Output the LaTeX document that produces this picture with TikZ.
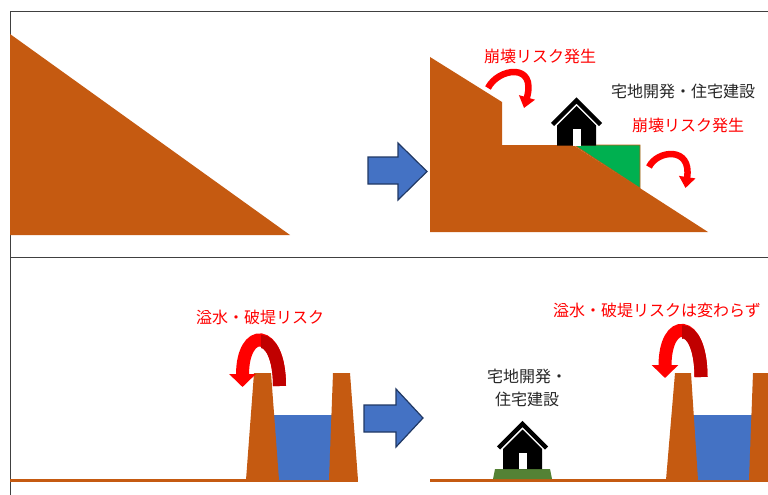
\documentclass[tikz,border=0pt]{standalone}
\usepackage{fontspec}
\newfontfamily\jpfont{Noto Sans CJK JP}
\usepackage{tikz}
\usetikzlibrary{arrows.meta}

\definecolor{soil}{RGB}{197,90,17}
\definecolor{water}{RGB}{68,114,196}
\definecolor{arrowedge}{RGB}{32,56,100}
\definecolor{lawn}{RGB}{0,176,80}
\definecolor{turf}{RGB}{84,130,53}
\definecolor{darkred}{RGB}{192,0,0}
\definecolor{framegray}{RGB}{64,64,64}

% house icon, origin at the middle of its floor
\tikzset{
  pics/house/.style={code={
    \fill[black] (-19.5,0) -- (-19.5,-20) -- (0,-39.5) -- (19.5,-20) -- (19.5,0) -- cycle;
    \fill[white] (-4,0) rectangle (4,-16.5);
    \draw[black, line width=4.5pt, line join=miter] (-24,-21) -- (0,-45) -- (24,-21);
  }}
}

\begin{document}
\begin{tikzpicture}[x=1pt, y=-1pt,
    blockarrow/.style={fill=water, draw=arrowedge, line width=1.2pt, line join=miter},
    riskarrow/.style={red, line width=6.5pt, -{Triangle[width=16pt,length=11pt]}},
    floodarrow/.style={red, line width=13pt, -{Triangle[width=26pt,length=13pt]}},
    redlabel/.style={text=red, inner sep=0pt, font=\jpfont\fontsize{16}{23.3}\selectfont},
    blacklabel/.style={text=black!85, inner sep=0pt, font=\jpfont\fontsize{16}{23.3}\selectfont}
]
\useasboundingbox (0,0) rectangle (768,495);

% panel frame
\draw[framegray, line width=1pt] (768,12) -- (10,12) -- (10,495);
\draw[framegray, line width=1pt] (10,257) -- (768,257);

% slope before development
\fill[soil] (10,34) -- (290,235) -- (10,235) -- cycle;
\draw[blockarrow] (368,157) -- (398,157) -- (398,143) -- (427,171.5) -- (398,200) -- (398,184) -- (368,184) -- cycle;

% cut and fill slope
\fill[soil] (430,57) -- (502,102) -- (502,145) -- (573,145) -- (708,232) -- (430,232) -- cycle;
\filldraw[fill=lawn, draw=soil, line width=0.8pt] (574,145) -- (640,145) -- (640,188.2) -- cycle;
\pic (housetop) at (576.5,145.5) {house};

\draw[riskarrow] (488,88) .. controls (498,68) and (537,62) .. (524,108);
\draw[riskarrow] (649,167) .. controls (657,150) and (692,146) .. (685.5,188);

\node[redlabel] (riskcut) at (540,56) {崩壊リスク発生};
\node[blacklabel] (devtop) at (683,91) {宅地開発・住宅建設};
\node[redlabel] (riskfill) at (688,125) {崩壊リスク発生};

% river before development
\fill[soil] (10,479) rectangle (358,482);
\fill[water] (273,415) -- (334,415) -- (331,480) -- (277,480) -- cycle;
\fill[soil] (246,480) -- (254,373) -- (271,373) -- (279,480) -- cycle;
\fill[soil] (329,480) -- (333,373) -- (350,373) -- (358,480) -- cycle;

\draw[floodarrow] (279.5,386) .. controls (279.5,326.5) and (242.5,326.5) .. (242.5,387);
\begin{scope}
  \clip (261,310) rectangle (300,395);
  \draw[darkred, line width=13pt] (279.5,386) .. controls (279.5,326.5) and (242.5,326.5) .. (242.5,387);
\end{scope}
\node[redlabel] (floodbefore) at (260,317) {溢水・破堤リスク};

\draw[blockarrow] (364,405) -- (396,405) -- (396,389) -- (423,418) -- (396,447) -- (396,432) -- (364,432) -- cycle;

% river after development
\fill[soil] (430,479) rectangle (768,482);
\fill[turf] (493,479) -- (495,469) -- (550,469) -- (552,479) -- cycle;
\pic (housebottom) at (522.5,469) {house};
\node[blacklabel, align=center] (devbottom) at (527,388) {宅地開発・\\住宅建設};

\fill[water] (690,415) -- (756,415) -- (752,480) -- (696,480) -- cycle;
\fill[soil] (666,480) -- (675,373) -- (691,373) -- (698,480) -- cycle;
\fill[soil] (749,480) -- (753,373) -- (770,373) -- (778,480) -- cycle;

\draw[floodarrow] (701,377) .. controls (701,316.8) and (665,316.8) .. (665,378);
\begin{scope}
  \clip (682,300) rectangle (720,390);
  \draw[darkred, line width=13pt] (701,377) .. controls (701,316.8) and (665,316.8) .. (665,378);
\end{scope}
\node[redlabel] (floodafter) at (657,310) {溢水・破堤リスクは変わらず};

\end{tikzpicture}
\end{document}
